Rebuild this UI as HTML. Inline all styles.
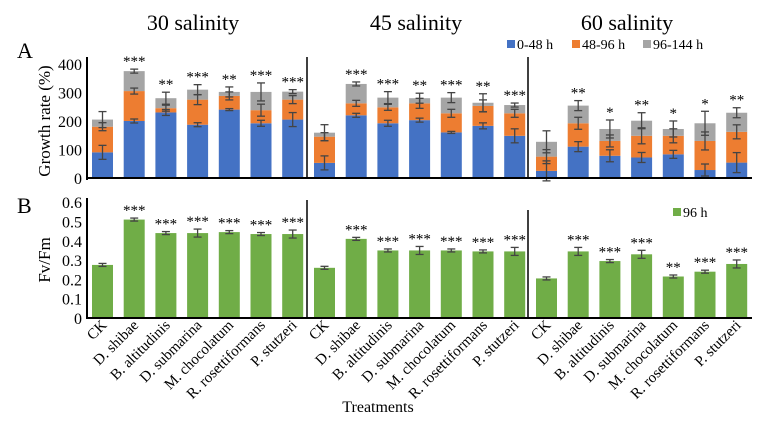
<!DOCTYPE html>
<html><head><meta charset="utf-8"><style>
html,body{margin:0;padding:0;background:#fff;}
svg{display:block;font-family:"Liberation Serif",serif;}
</style></head><body>
<svg id="s" width="757" height="437" viewBox="0 0 757 437" xmlns="http://www.w3.org/2000/svg">
<rect width="757" height="437" fill="#fff"/>
<text x="193" y="30" font-size="22" text-anchor="middle">30 salinity</text>
<text x="416" y="30" font-size="22" text-anchor="middle">45 salinity</text>
<text x="627" y="30" font-size="22" text-anchor="middle">60 salinity</text>
<text x="17" y="58" font-size="22">A</text>
<text x="17" y="213" font-size="22">B</text>
<text transform="translate(50,121) rotate(-90)" font-size="17" text-anchor="middle">Growth rate (%)</text>
<text transform="translate(50,260) rotate(-90)" font-size="17" text-anchor="middle">Fv/Fm</text>
<text x="378" y="412" font-size="16" text-anchor="middle">Treatments</text>
<rect x="507" y="40" width="8" height="8" fill="#4472C4"/><text x="517" y="49" font-size="14">0-48 h</text>
<rect x="572" y="40" width="8" height="8" fill="#ED7D31"/><text x="582" y="49" font-size="14">48-96 h</text>
<rect x="643" y="40" width="8" height="8" fill="#A5A5A5"/><text x="653" y="49" font-size="14">96-144 h</text>
<rect x="673" y="208" width="8" height="8" fill="#70AD47"/><text x="683" y="217" font-size="14">96 h</text>
<g id="g"></g>
</svg>
<script>
var g=document.getElementById('g'),h='';
function L(x1,y1,x2,y2,w,c){h+='<line x1="'+x1+'" y1="'+y1+'" x2="'+x2+'" y2="'+y2+'" stroke="'+(c||'#000')+'" stroke-width="'+(w||1)+'"/>';}
function T(x,y,t,s,a){h+='<text x="'+x+'" y="'+y+'" font-size="'+s+'" text-anchor="'+(a||'middle')+'">'+t+'</text>';}
function R(x,y,w,hh,c){h+='<rect x="'+x+'" y="'+y+'" width="'+w+'" height="'+hh+'" fill="'+c+'"/>';}
function E(x,y,d){L(x,y-d,x,y+d,1.3,'#444');L(x-4,y-d,x+4,y-d,1.3,'#444');L(x-4,y+d,x+4,y+d,1.3,'#444');}
var A=[[[90,180,205],[200,305,375],[230,245,280],[187,275,310],[240,288,302],[192,238,302],[205,275,303]],
[[53,145,159],[220,262,330],[192,248,282],[203,262,280],[160,227,282],[183,253,264],[148,227,256]],
[[25,75,127],[110,192,254],[78,130,172],[72,148,201],[83,148,172],[28,130,192],[54,162,229]]];
var AS=[['','***','**','***','**','***','***'],['','***','***','**','***','**','***'],['','**','*','**','*','*','**']];
var B=[[.275,.51,.44,.44,.445,.435,.435],[.26,.41,.35,.35,.35,.345,.345],[.205,.345,.295,.33,.215,.24,.28]];
var BS=[['','***','***','***','***','***','***'],['','***','***','***','***','***','***'],['','***','***','***','**','***','***']];
var names=['CK','D. shibae','B. altitudinis','D. submarina','M. chocolatum','R. rosettiformans','P. stutzeri'];
var gx=[92,314,536],pitch=31.7,bw=21;
function ya(v){return 178-v*0.285;}
function yb(v){return 318-v*193;}
var eA=[[7,4,8],[2,3,2],[3,3,6],[2,5,5],[1,4,5],[3,6,9],[7,4,2]];
for(var k=0;k<3;k++){for(var i=0;i<7;i++){var x=gx[k]+i*pitch,cx=x+bw/2,v=A[k][i];
 R(x,ya(v[0]),bw,ya(0)-ya(v[0]),'#4472C4');R(x,ya(v[1]),bw,ya(v[0])-ya(v[1]),'#ED7D31');R(x,ya(v[2]),bw,ya(v[1])-ya(v[2]),'#A5A5A5');
 var e=eA[i];if(k==2)e=[e[0]+3,e[1]+3,e[2]+3];E(cx,ya(v[0]),e[0]);E(cx,ya(v[1]),e[1]);E(cx,ya(v[2]),e[2]);
 if(AS[k][i])T(cx,ya(v[2])-e[2]-3,AS[k][i],15);
 var b=B[k][i];R(x,yb(b),bw,yb(0)-yb(b),'#70AD47');var eb=(i==3||i==6||k==2&&i==1)?4:1.5;E(cx,yb(b),eb);
 if(BS[k][i])T(cx,yb(b)-eb-3,BS[k][i],15);
 h+='<text transform="translate('+(cx+5)+',326) rotate(-45)" font-size="15" text-anchor="end">'+names[i]+'</text>';
}}
L(87,57,87,180,2);L(86,178,752,178,2);L(87,198,87,319,2);L(86,318,752,318,2);
L(307,57,307,178,1.5);L(528,57,528,178,1.5);L(307,200,307,318,1.5);L(528,210,528,318,1.5);
[0,100,200,300,400].forEach(function(v){T(82,ya(v)+6,v,16,'end');});
[0,.1,.2,.3,.4,.5,.6].forEach(function(v){T(82,yb(v)+6,v==0?'0':v.toFixed(1),16,'end');});
g.innerHTML=h;
</script>
</body></html>
